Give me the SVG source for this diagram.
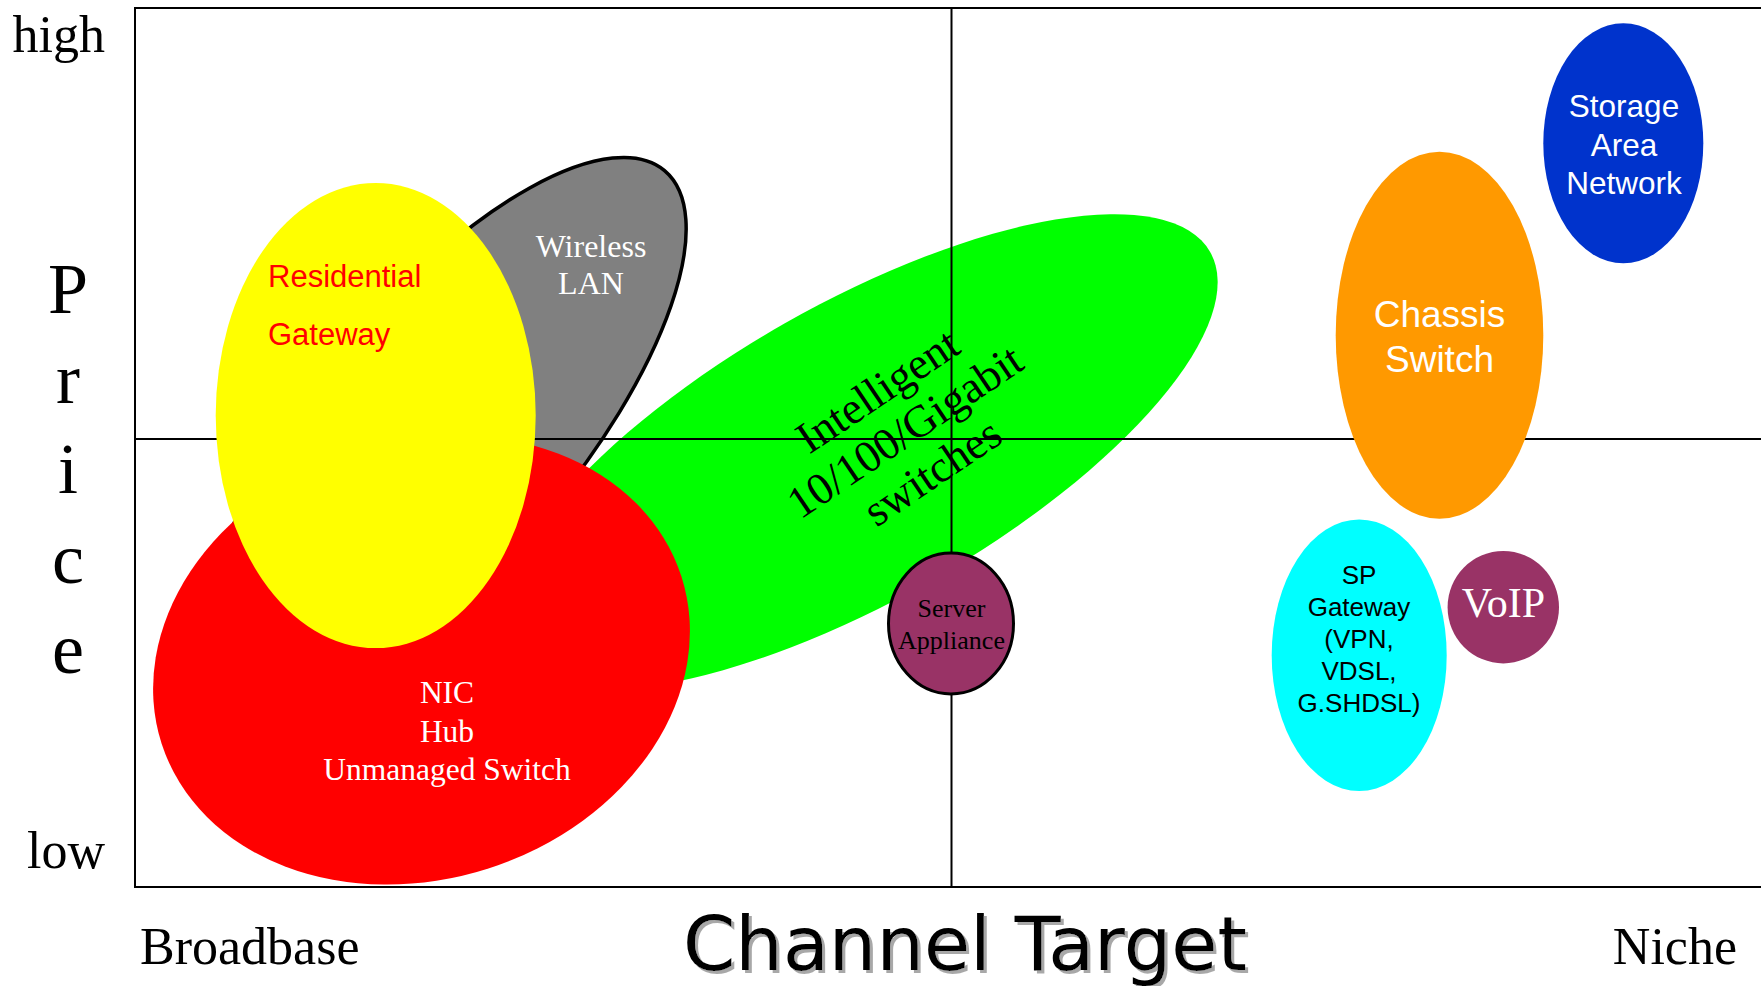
<svg xmlns="http://www.w3.org/2000/svg" width="1761" height="986" viewBox="0 0 1761 986">
  <defs>
    <style>
      .serif { font-family: "Liberation Serif", "Times New Roman", serif; }
      .sans { font-family: "Liberation Sans", Arial, sans-serif; }
      .axis { fill: #000; font-size: 52px; }
      .price { fill: #000; font-size: 72px; text-anchor: middle; }
      .line { stroke: #000; stroke-width: 2; fill: none; }
      .mid { text-anchor: middle; }
    </style>
    <filter id="shadow" x="-5%" y="-30%" width="110%" height="160%">
      <feOffset in="SourceAlpha" dx="3" dy="3" result="off"/>
      <feFlood flood-color="#a8a8a8"/>
      <feComposite in2="off" operator="in" result="sh"/>
      <feMerge><feMergeNode in="sh"/><feMergeNode in="SourceGraphic"/></feMerge>
    </filter>
  </defs>
  <rect width="1761" height="986" fill="#fff"/>

  <g id="wireless-lan">
    <ellipse cx="0" cy="0" rx="340" ry="130" transform="translate(446,431) rotate(-50)" fill="#808080" stroke="#000" stroke-width="3.5"/>
    <text class="serif mid" x="591" y="257" font-size="32" fill="#fff">Wireless</text>
    <text class="serif mid" x="591" y="294" font-size="32" fill="#fff">LAN</text>
  </g>

  <g id="intelligent-switches">
    <ellipse cx="0" cy="0" rx="405" ry="148" transform="translate(858,452) rotate(-29.6)" fill="#00ff00"/>
  </g>

  <g id="axes">
    <path class="line" d="M1761,8 H135 V887 H1761"/>
    <line class="line" x1="951.5" y1="8" x2="951.5" y2="887"/>
    <line class="line" x1="135" y1="439" x2="1761" y2="439"/>
  </g>

  <g id="intelligent-label" transform="translate(906,433) rotate(-34)">
    <text class="serif mid" x="0" y="-36" font-size="45" fill="#000">Intelligent</text>
    <text class="serif mid" x="0" y="13" font-size="45" fill="#000">10/100/Gigabit</text>
    <text class="serif mid" x="0" y="62" font-size="45" fill="#000">switches</text>
  </g>

  <g id="nic-hub">
    <ellipse cx="0" cy="0" rx="273" ry="219" transform="translate(421.5,660) rotate(-17.8)" fill="#ff0000"/>
    <text class="serif mid" x="447" y="703" font-size="31.5" fill="#fff">NIC</text>
    <text class="serif mid" x="447" y="741.5" font-size="31.5" fill="#fff">Hub</text>
    <text class="serif mid" x="447" y="780" font-size="31.5" fill="#fff">Unmanaged Switch</text>
  </g>

  <g id="residential-gateway">
    <ellipse cx="375.7" cy="415.6" rx="160" ry="232.5" fill="#ffff00"/>
    <text class="sans" x="268" y="287" font-size="31" fill="#ff0000">Residential</text>
    <text class="sans" x="268" y="345" font-size="31" fill="#ff0000">Gateway</text>
  </g>

  <g id="chassis-switch">
    <ellipse cx="1439.5" cy="335.3" rx="103.8" ry="183.5" fill="#ff9900"/>
    <text class="sans mid" x="1439.5" y="327" font-size="37" fill="#fff">Chassis</text>
    <text class="sans mid" x="1439.5" y="371.5" font-size="37" fill="#fff">Switch</text>
  </g>

  <g id="storage-area-network">
    <ellipse cx="1623.3" cy="143.3" rx="80" ry="120" fill="#0033cc"/>
    <text class="sans mid" x="1624" y="117" font-size="31.5" fill="#fff">Storage</text>
    <text class="sans mid" x="1624" y="155.5" font-size="31.5" fill="#fff">Area</text>
    <text class="sans mid" x="1624" y="194" font-size="31.5" fill="#fff">Network</text>
  </g>

  <g id="sp-gateway">
    <ellipse cx="1359.2" cy="655.2" rx="87.5" ry="135.8" fill="#00ffff"/>
    <text class="sans mid" x="1359" y="584" font-size="26" fill="#000">SP</text>
    <text class="sans mid" x="1359" y="616" font-size="26" fill="#000">Gateway</text>
    <text class="sans mid" x="1359" y="648" font-size="26" fill="#000">(VPN,</text>
    <text class="sans mid" x="1359" y="680" font-size="26" fill="#000">VDSL,</text>
    <text class="sans mid" x="1359" y="712" font-size="26" fill="#000">G.SHDSL)</text>
  </g>

  <g id="voip">
    <ellipse cx="1503.3" cy="607.2" rx="55.7" ry="56.2" fill="#993366"/>
    <text class="serif mid" x="1503.5" y="617" font-size="42" fill="#fff">VoIP</text>
  </g>

  <g id="server-appliance">
    <ellipse cx="951" cy="623.5" rx="62.5" ry="70.5" fill="#993366" stroke="#000" stroke-width="3"/>
    <text class="serif mid" x="951.5" y="616.5" font-size="26" fill="#000">Server</text>
    <text class="serif mid" x="951.5" y="648.5" font-size="26" fill="#000">Appliance</text>
  </g>

  <g id="axis-labels">
    <text class="serif axis" x="105" y="52" text-anchor="end">high</text>
    <text class="serif axis" x="105" y="868" text-anchor="end">low</text>
    <text class="serif price" x="68" y="313">P</text>
    <text class="serif price" x="68" y="403">r</text>
    <text class="serif price" x="68" y="493">i</text>
    <text class="serif price" x="68" y="583">c</text>
    <text class="serif price" x="68" y="673">e</text>
    <text class="serif axis" x="140" y="964">Broadbase</text>
    <text class="serif axis" x="1737" y="964" text-anchor="end">Niche</text>
    <text x="683" y="970" font-family="'DejaVu Sans', Verdana, sans-serif" font-size="75" fill="#000" filter="url(#shadow)">Channel Target</text>
  </g>
</svg>
